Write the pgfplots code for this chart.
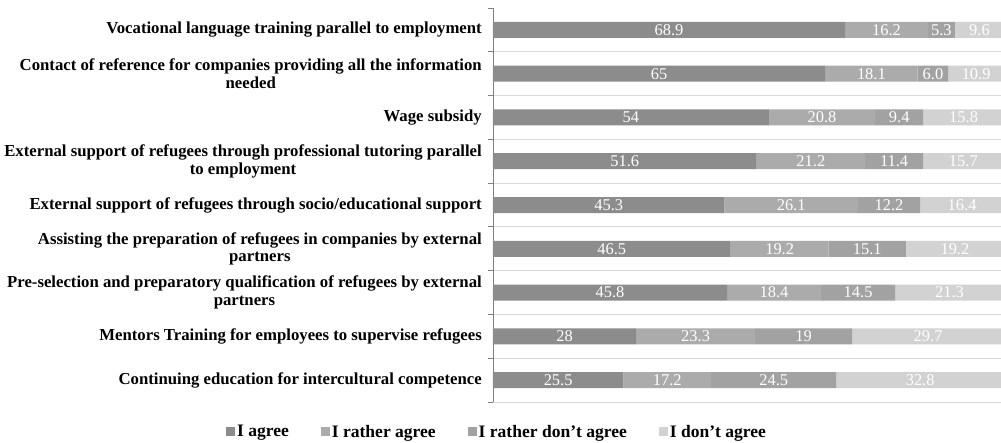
\documentclass[border=0pt]{standalone}
\usepackage{pgfplots}
\pgfplotsset{compat=1.18}
\usepackage{pgfplotstable}
\usepackage{fontspec}
\setmainfont{Liberation Serif}
\definecolor{cA}{HTML}{8C8C8C}
\definecolor{cB}{HTML}{ABABAB}
\definecolor{cC}{HTML}{A2A2A2}
\definecolor{cD}{HTML}{D2D2D2}
\definecolor{gridgray}{HTML}{D9D9D9}
\definecolor{axisgray}{HTML}{7F7F7F}
\pgfplotstableread{
y a b c d
0 68.9 16.2 5.3 9.6
1 65 18.1 6.0 10.9
2 54 20.8 9.4 15.8
3 51.6 21.2 11.4 15.7
4 45.3 26.1 12.2 16.4
5 46.5 19.2 15.1 19.2
6 45.8 18.4 14.5 21.3
7 28 23.3 19 29.7
8 25.5 17.2 24.5 32.8
}\datatable
\newcommand{\lblfont}{\fontsize{16.8}{17.5}\selectfont}
\newcommand{\legfont}{\fontsize{17.6}{18}\selectfont}
\newcommand{\numfont}{\fontsize{16.5}{17}\selectfont}
\begin{document}
\begin{tikzpicture}
\useasboundingbox (-493bp,-41bp) rectangle (508bp,402bp);
\begin{axis}[
  at={(0,0)}, anchor=south west,
  scale only axis, width=511bp, height=394bp,
  xbar stacked, bar width=16bp,
  xmin=0, xmax=100,
  ymin=-0.5, ymax=8.5, y dir=reverse,
  axis x line=none,
  axis y line*=left,
  y axis line style={color=axisgray, line width=0.8pt},
  ytick={0,...,8},
  yticklabels={
    {Vocational language training parallel to employment},
    {Contact of reference for companies providing all the information\\needed},
    {Wage subsidy},
    {External support of refugees through professional tutoring parallel\\to employment},
    {External support of refugees through socio/educational support},
    {Assisting the preparation of refugees in companies by external\\partners},
    {Pre-selection and preparatory qualification of refugees by external\\partners},
    {Mentors Training for employees to supervise refugees},
    {Continuing education for intercultural competence}},
  major tick length=0pt,
  minor ytick={0.5,1.5,...,8.5},
  minor tick length=5bp,
  extra y ticks={-0.5},
  extra y tick labels={},
  extra tick style={major tick length=5bp, grid=none},
  tick align=outside,
  tick style={color=axisgray, line width=0.8pt},
  yminorgrids=true,
  minor grid style={color=gridgray, line width=0.8pt},
  yticklabel style={align=center, font=\lblfont\bfseries, text=black, inner sep=0pt, xshift=-11bp},
  point meta=explicit symbolic,
  nodes near coords,
  every node near coord/.append style={anchor=center, font=\numfont, text=white},
  legend columns=4,
  legend style={at={(axis description cs:0.008,-0.0761)}, anchor=center, draw=none,
      font=\legfont\bfseries, inner sep=0pt,
      /tikz/every even column/.append style={column sep=30bp}},
  legend image code/.code={\fill[#1] (0bp,-4.5bp) rectangle (9bp,4.5bp);},
]
\addplot[fill=cA, draw=none] table[x=a, y=y, meta=a]{\datatable};
\addplot[fill=cB, draw=none] table[x=b, y=y, meta=b]{\datatable};
\addplot[fill=cC, draw=none] table[x=c, y=y, meta=c]{\datatable};
\addplot[fill=cD, draw=none] table[x=d, y=y, meta=d]{\datatable};
\legend{I agree, I rather agree, I rather don't agree, I don't agree}
\end{axis}
\end{tikzpicture}
\end{document}
